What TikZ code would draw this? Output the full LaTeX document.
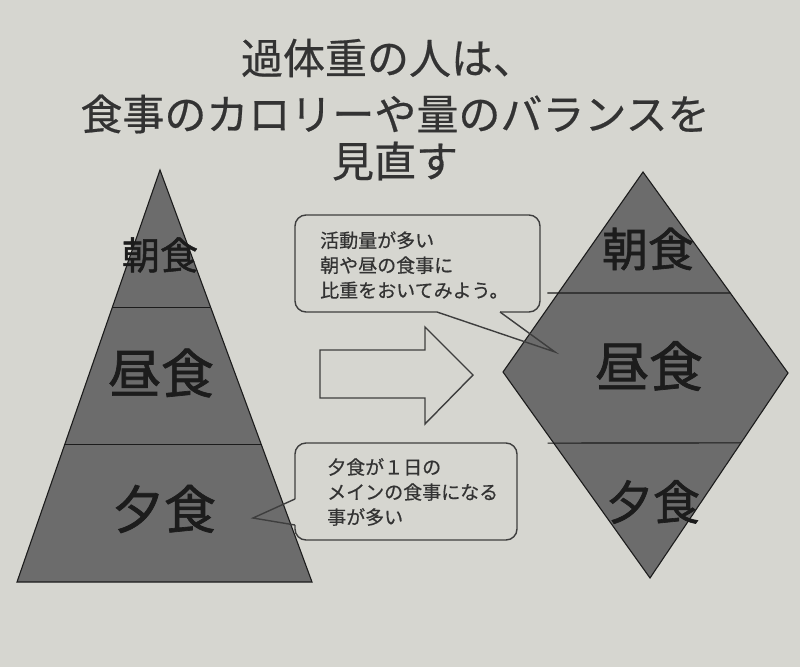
\documentclass[tikz,border=0pt]{standalone}
\usepackage{fontspec}
\newfontfamily\jpfont[FakeBold=0.5]{Noto Sans CJK JP}
\newfontfamily\jpbold[FakeBold=1.3]{Noto Sans CJK JP}
\usetikzlibrary{calc}
\definecolor{paper}{RGB}{214,214,208}
\definecolor{meal}{RGB}{108,108,108}
\definecolor{ink}{RGB}{28,28,28}
\begin{document}
\begin{tikzpicture}[x=1pt, y=-1pt,
    layer/.style={fill=meal, draw=ink, line width=1.1pt, line join=miter},
    split/.style={draw=ink, line width=1.1pt},
    meal/.style={text=ink, inner sep=0pt, font=\jpbold\fontsize{#1}{#1}\selectfont},
    bubble/.style={draw=ink!85, line width=1.4pt},
    note/.style={text=ink!90, inner sep=0pt, align=left, anchor=west,
      font=\jpfont\fontsize{19}{25}\selectfont},
    title/.style={text=ink!90, inner sep=0pt, font=\jpfont\fontsize{42}{42}\selectfont}]
  \fill[paper] (0,0) rectangle (800,667);
  % title
  \node[title] (t1) at (388,58) {過体重の人は、};
  \node[title] (t2) at (395,114) {食事のカロリーや量のバランスを};
  \node[title] (t3) at (395,161) {見直す};
  % pyramid
  \coordinate (pA) at (160,170);
  \coordinate (pL) at (17,582);
  \coordinate (pR) at (312,582);
  \filldraw[layer] (pA) -- (pL) -- (pR) -- cycle;
  \draw[split] ($(pA)!1/3!(pL)$) -- ($(pA)!1/3!(pR)$);
  \draw[split] ($(pA)!2/3!(pL)$) -- ($(pA)!2/3!(pR)$);
  \node[meal=38] (pb) at (160,255) {朝食};
  \node[meal=53] (pl) at (161,373) {昼食};
  \node[meal=52] (pd) at (164,509) {夕食};
  % diamond
  \coordinate (dT) at (643,172);
  \coordinate (dL) at (503,372);
  \coordinate (dR) at (788,373);
  \coordinate (dB) at (650,578);
  \filldraw[layer] (dT) -- (dL) -- (dB) -- (dR) -- cycle;
  \draw[split] ([xshift=-11pt]$(dT)!0.605!(dL)$) -- ($(dT)!0.602!(dR)$);
  \draw[split] ([xshift=-6pt]$(dL)!0.345!(dB)$) -- ($(dR)!0.341!(dB)$);
  \node[meal=46] (db) at (648,249) {朝食};
  \node[meal=54] (dl) at (649,366) {昼食};
  \node[meal=47] (dd) at (653,502) {夕食};
  % arrow
  \draw[bubble, line join=miter] (320,350) -- (425,350) -- (425,327) -- (473,375)
    -- (425,424) -- (425,398) -- (320,398) -- cycle;
  % callouts
  \coordinate (tip1) at (555,352);
  \draw[bubble, rounded corners=11pt] (500,312) -- (540,312) -- (540,215)
    -- (295,215) -- (295,312) -- (437,312);
  \draw[bubble, line join=miter] (437,312) -- (tip1) -- (500,312);
  \node[note] (n1) at (320,265) {活動量が多い\\朝や昼の食事に\\比重をおいてみよう。};
  \coordinate (tip2) at (253,518);
  \draw[bubble, rounded corners=11pt] (295,525) -- (295,540) -- (517,540)
    -- (517,443) -- (295,443) -- (295,499);
  \draw[bubble, line join=miter] (295,499) -- (tip2) -- (295,525);
  \node[note] (n2) at (327,492) {夕食が１日の\\メインの食事になる\\事が多い};
\end{tikzpicture}
\end{document}
